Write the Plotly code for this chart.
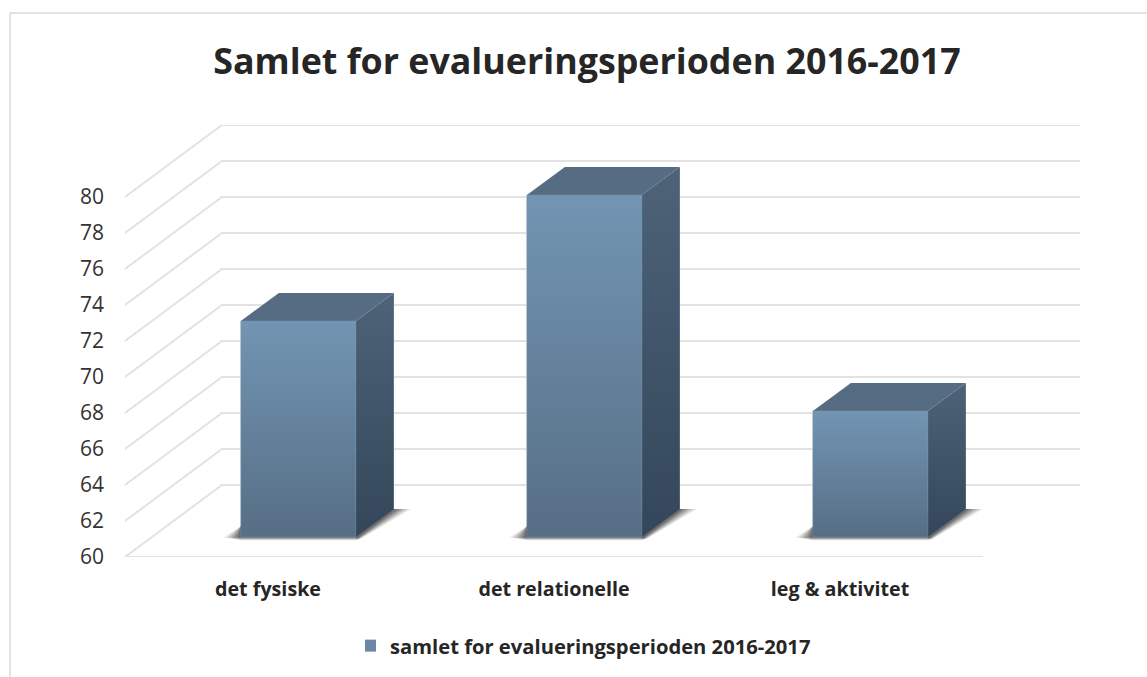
import plotly.graph_objects as go

categories = ["det fysiske", "det relationelle", "leg & aktivitet"]
values = [72, 79, 67]
series_name = "samlet for evalueringsperioden 2016-2017"
title_text = "Samlet for evalueringsperioden 2016-2017"
y_ticks = list(range(60, 82, 2))

FONT = "Open Sans"
GRID = "#e2e2e2"
INK = "#262626"

# projection of the oblique 3-D look, in axis units
WALL_DX, WALL_DY = 0.339, 4.0
BAR_SHIFT_X, BAR_LIFT = 0.106, 1.11
BAR_W = 0.402
BAR_DX, BAR_DY = 0.133, 1.556
X_MIN, X_MAX = -0.5, 2.5

fig = go.Figure()

# real bars (carry the data and the legend entry; faces are painted on top)
fig.add_trace(go.Bar(
    x=[i + BAR_SHIFT_X for i in range(len(categories))],
    y=[v - 60 for v in values],
    base=60 + BAR_LIFT, width=BAR_W, name=series_name,
    marker=dict(color="#6a88a4", line_width=0), showlegend=True, hoverinfo="skip",
))

# walls and floor grid
gx, gy = [], []
for v in y_ticks:
    gx += [X_MIN, X_MIN + WALL_DX, X_MAX + WALL_DX, None]
    gy += [v, v + WALL_DY, v + WALL_DY, None]
gx += [X_MIN, X_MAX]
gy += [60, 60]
fig.add_trace(go.Scatter(x=gx, y=gy, mode="lines", line=dict(color=GRID, width=2),
                         showlegend=False, hoverinfo="skip"))


def poly(xs, ys, **kw):
    fig.add_trace(go.Scatter(x=xs + xs[:1], y=ys + ys[:1], mode="lines", fill="toself",
                             showlegend=False, hoverinfo="skip", **kw))


for i, v in enumerate(values):
    c = i + BAR_SHIFT_X
    x0, x1 = c - BAR_W / 2, c + BAR_W / 2
    base = 60 + BAR_LIFT
    top = base + (v - 60)
    # soft floor shadow
    for ext, a in [(0.060, 0.10), (0.050, 0.12), (0.040, 0.15), (0.030, 0.18), (0.020, 0.22), (0.010, 0.26)]:
        drop = ext * 3
        poly([x0 - ext, x0, x1 + BAR_DX, x1 + BAR_DX + ext, x1 + ext * 0.3, x1, x0],
             [base - 0.02, base + 0.6, base + BAR_DY, base + BAR_DY, base - 0.1, base - drop, base - drop],
             line=dict(width=0), fillcolor=f"rgba(40,40,40,{a})")
    # side face
    poly([x1, x1 + BAR_DX, x1 + BAR_DX, x1],
         [top, top + BAR_DY, base + BAR_DY, base],
         line=dict(width=0),
         fillgradient=dict(type="vertical",
                           colorscale=[[0, "#33465a"], [1, "#4e6378"]]))
    # top face
    poly([x0, x0 + BAR_DX, x1 + BAR_DX, x1],
         [top, top + BAR_DY, top + BAR_DY, top],
         line=dict(width=0), fillcolor="#566c82")
    # front face
    poly([x0, x1, x1, x0], [top, top, base, base],
         line=dict(width=1, color="rgba(125,150,172,0.45)"),
         fillgradient=dict(type="vertical",
                           colorscale=[[0, "#566e85"], [1, "#7295b3"]]))

fig.update_layout(
    width=1147, height=677, autosize=False,
    margin=dict(l=125, r=67, t=125, b=120, autoexpand=False),
    paper_bgcolor="white", plot_bgcolor="white",
    font=dict(family=FONT, color=INK),
    title=dict(text=f"<b>{title_text}</b>", font=dict(size=35.8, color=INK, family=FONT),
               x=587 / 1147, xanchor="center", y=1 - 61 / 677, yanchor="middle"),
    barmode="overlay",
    xaxis=dict(range=[X_MIN, X_MAX + WALL_DX], tickmode="array", tickvals=list(range(len(categories))),
               ticktext=[f"<b>{c}</b>" for c in categories], tickfont=dict(size=19.7, color=INK),
               showgrid=False, zeroline=False, showline=False, ticks="", ticklabelstandoff=18),
    yaxis=dict(range=[60, 60 + 24], tickmode="array", tickvals=y_ticks,
               tickfont=dict(size=21, color="#333333"),
               showgrid=False, zeroline=False, showline=False, ticks="", ticklabelstandoff=20),
    legend=dict(orientation="h", x=(365 - 125) / 955, xanchor="left", indentation=-15,
                y=-(646 - 557) / 432, yanchor="middle",
                font=dict(size=20.2, color=INK, family=FONT, weight="bold"),
                bgcolor="rgba(0,0,0,0)"),
    shapes=[
        dict(type="line", xref="paper", yref="paper", x0=(10 - 125) / 955, x1=(10 - 125) / 955,
             y0=-120 / 432, y1=(557 - 13) / 432, line=dict(color=GRID, width=2)),
        dict(type="line", xref="paper", yref="paper", x0=(10 - 125) / 955, x1=(1147 - 125) / 955,
             y0=(557 - 13) / 432, y1=(557 - 13) / 432, line=dict(color=GRID, width=2)),
    ],
)

fig.write_html("out.html", config=dict(displayModeBar=False),
               post_script="document.body.style.margin='0';")
